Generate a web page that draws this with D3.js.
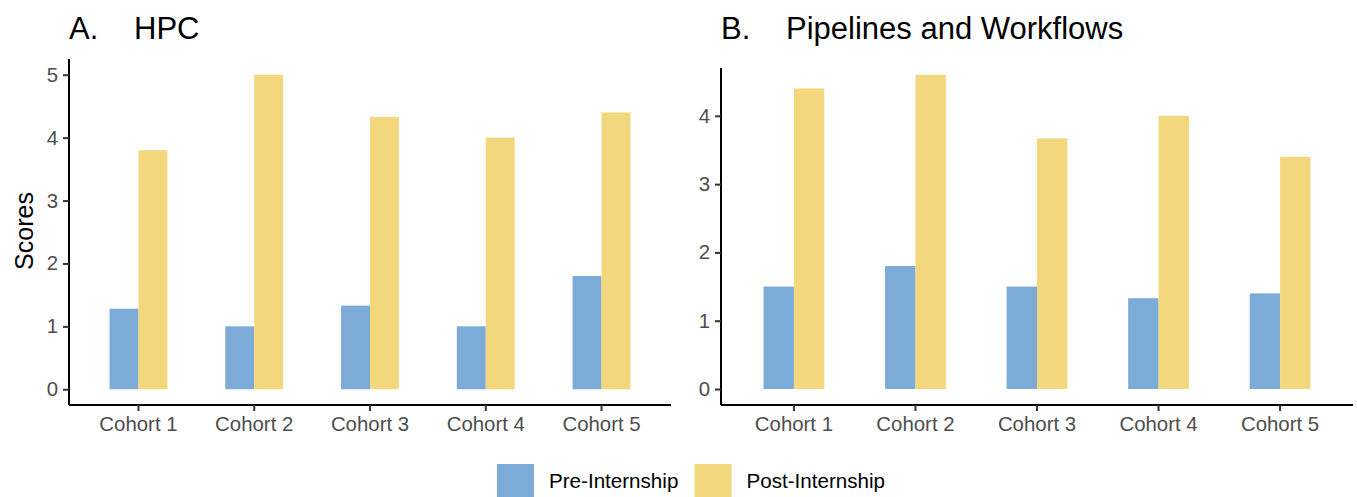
<!DOCTYPE html>
<html>
<head>
<meta charset="utf-8">
<script src="https://cdn.jsdelivr.net/npm/d3@7"></script>
<style>
  html, body { margin: 0; padding: 0; background: #fff; }
  svg { display: block; font-family: "Liberation Sans", Arial, sans-serif; }
</style>
</head>
<body>
<svg id="chart" width="1357" height="497"></svg>
<script>
const cohorts = ["Cohort 1", "Cohort 2", "Cohort 3", "Cohort 4", "Cohort 5"];
const groups = ["Pre-Internship", "Post-Internship"];
const hpcPre = [1.28, 1.0, 1.33, 1.0, 1.8];
const hpcPost = [3.8, 5.0, 4.33, 4.0, 4.4];
const pipePre = [1.5, 1.8, 1.5, 1.33, 1.4];
const pipePost = [4.4, 4.6, 3.67, 4.0, 3.4];
const hpcTicks = [0, 1, 2, 3, 4, 5];
const pipeTicks = [0, 1, 2, 3, 4];
const colors = ["#7BABD6", "#F2D77C"];

const svg = d3.select("#chart");

function panel(cfg) {
  const g = svg.append("g");
  const x = d3.scaleBand().domain(cohorts).range([cfg.x0, cfg.x1]).paddingInner(0).paddingOuter(0.1);
  const xg = d3.scaleBand().domain(groups).range([x.bandwidth() * 0.25, x.bandwidth() * 0.75]);
  const y = d3.scaleLinear().domain(cfg.ydom).range([cfg.yBottom, cfg.yTop]);

  const rows = cohorts.map((c, i) => ({ c, vals: [cfg.pre[i], cfg.post[i]] }));
  g.selectAll("g.cohort").data(rows).join("g")
    .attr("transform", d => `translate(${x(d.c)},0)`)
    .selectAll("rect").data(d => d.vals.map((v, j) => ({ g: groups[j], v, j })))
    .join("rect")
    .attr("x", d => xg(d.g))
    .attr("width", xg.bandwidth())
    .attr("y", d => y(d.v))
    .attr("height", d => y(0) - y(d.v))
    .attr("fill", d => colors[d.j]);

  const ya = g.append("g").attr("transform", `translate(${cfg.x0},0)`)
    .call(d3.axisLeft(y).tickValues(cfg.ticks).tickSize(6).tickPadding(5).tickFormat(d3.format("d")));
  ya.select(".domain").attr("stroke", "#000").attr("stroke-width", 2);
  ya.selectAll(".tick line").attr("stroke", "#333").attr("stroke-width", 2);
  ya.selectAll(".tick text").attr("fill", "#4d4d4d").style("font-size", "20.4px")
    .style("font-family", "Liberation Sans, Arial, sans-serif");

  const xa = g.append("g").attr("transform", `translate(0,${cfg.yBottom})`)
    .call(d3.axisBottom(x).tickSize(6).tickPadding(6));
  xa.select(".domain").attr("stroke", "#000").attr("stroke-width", 2);
  xa.selectAll(".tick line").attr("stroke", "#333").attr("stroke-width", 2);
  xa.selectAll(".tick text").attr("fill", "#4d4d4d").style("font-size", "20.4px")
    .style("font-family", "Liberation Sans, Arial, sans-serif");

  ya.select(".domain").attr("d", `M0,${cfg.yTop}V${cfg.yBottom}`);
  xa.select(".domain").attr("d", `M${cfg.x0},0H${cfg.x1}`);

  svg.append("text").attr("x", cfg.x0).attr("y", 39).attr("font-size", 31).attr("fill", "#000").text(cfg.letter);
  svg.append("text").attr("x", cfg.titleX).attr("y", 39).attr("font-size", 31).attr("fill", "#000").text(cfg.title);
}

panel({ x0: 69, x1: 671, yTop: 59, yBottom: 405, ydom: [-0.25, 5.25], ticks: hpcTicks,
        pre: hpcPre, post: hpcPost, letter: "A.", title: "HPC", titleX: 134 });
panel({ x0: 721, x1: 1353, yTop: 68, yBottom: 405, ydom: [-0.234, 4.7], ticks: pipeTicks,
        pre: pipePre, post: pipePost, letter: "B.", title: "Pipelines and Workflows", titleX: 786 });

svg.append("text")
  .attr("transform", "translate(33,231) rotate(-90)")
  .attr("text-anchor", "middle")
  .attr("font-size", 25)
  .attr("fill", "#000")
  .text("Scores");

const legendX = [497, 694.5];
const legend = svg.append("g");
groups.forEach((gname, i) => {
  legend.append("rect").attr("x", legendX[i]).attr("y", 464).attr("width", 37).attr("height", 37).attr("fill", colors[i]);
  legend.append("text").attr("x", legendX[i] + 52).attr("y", 487.5).attr("font-size", 20.6).attr("fill", "#000").text(gname);
});
</script>
</body>
</html>
